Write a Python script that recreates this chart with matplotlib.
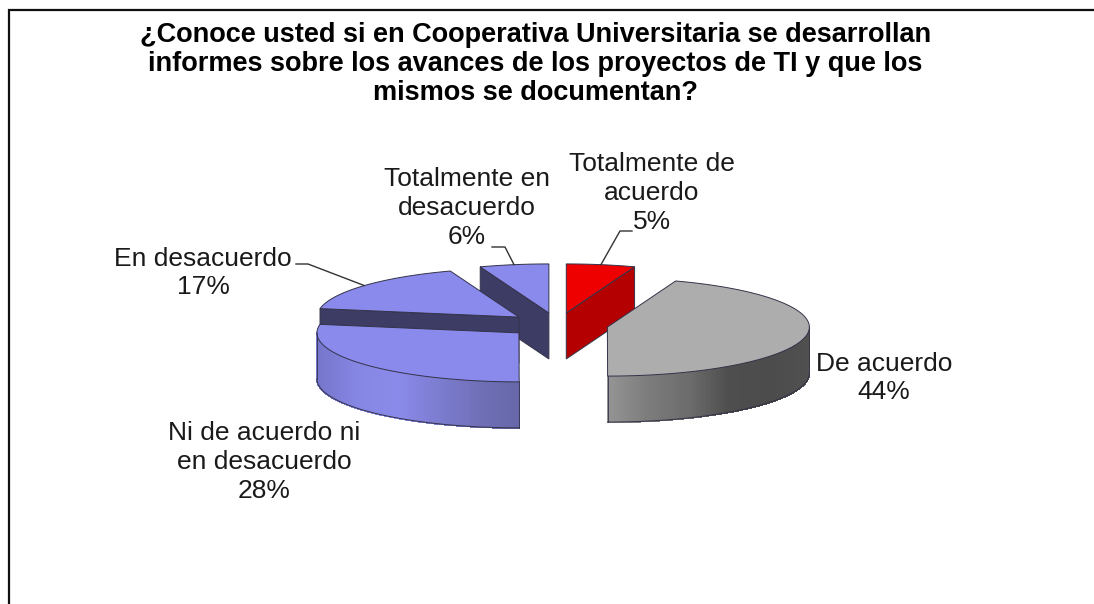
import numpy as np
import matplotlib
matplotlib.use("Agg")
import matplotlib.pyplot as plt
from matplotlib.patches import Polygon
from matplotlib.collections import PolyCollection
from matplotlib.colors import LinearSegmentedColormap

plt.rcParams['font.family'] = ['Liberation Sans', 'DejaVu Sans']

title = ("¿Conoce usted si en Cooperativa Universitaria se desarrollan\n"
         "informes sobre los avances de los proyectos de TI y que los\n"
         "mismos se documentan?")
categories = ["Totalmente de\nacuerdo", "De acuerdo", "Ni de acuerdo ni\nen desacuerdo",
              "En desacuerdo", "Totalmente en\ndesacuerdo"]
values = [5.49, 44.49, 27.8, 16.7, 5.52]

top_colors = ['#EE0000', '#ADADAD', '#8A8AEC', '#8A8AEC', '#8A8AEC']
wall_colors = ['#B40000', None, None, '#3C3C64', '#3C3C64']
outer_stops = {1: ['#949494', '#7c7c7c', '#6c6c6c', '#4e4e4e', '#4c4c4c', '#505050'],
               2: ['#7676cc', '#8686e4', '#8a8aea', '#7c7cd0', '#7070b8', '#6666a8']}
label_xy = [(652, 193), (884, 378), (264, 462), (203, 273), (467, 208)]

# projection of the pie in pixels
CX, CY, RX, RY, DEPTH, EXPLODE = 557.6, 325.0, 202.0, 49.0, 46.0, 0.25

fig = plt.figure(figsize=(10.94, 6.04), dpi=100, facecolor='white')
ax = fig.add_axes([0, 0, 1, 1])
ax.set_xlim(0, 1094)
ax.set_ylim(604, 0)
ax.axis('off')

# frame of the chart area
ax.plot([9.2, 9.2, 1094], [604, 10.2, 10.2], color='#101010', lw=1.6, solid_joinstyle='miter')

ax.text(535.5, 64, title, ha='center', va='center', fontsize=19.5, fontweight='bold',
        color='black', linespacing=1.16)

fr = np.array(values) / sum(values)
ends = np.cumsum(fr) * 2 * np.pi
starts = ends - fr * 2 * np.pi
mids = (starts + ends) / 2
apex_x = CX + EXPLODE * RX * np.sin(mids)
apex_y = CY - EXPLODE * RY * np.cos(mids)

EDGE = '#33334a'


def arc(i, n=160):
    t = np.linspace(starts[i], ends[i], n)
    return apex_x[i] + RX * np.sin(t), apex_y[i] - RY * np.cos(t)


def side_wall(i, angle, color):
    x0, y0 = apex_x[i], apex_y[i]
    x1, y1 = x0 + RX * np.sin(angle), y0 - RY * np.cos(angle)
    ax.add_patch(Polygon([(x0, y0), (x1, y1), (x1, y1 + DEPTH), (x0, y0 + DEPTH)],
                         closed=True, facecolor=color, edgecolor=EDGE, lw=0.7))


def outer_wall(i):
    t = np.linspace(starts[i], ends[i], 400)
    x = apex_x[i] + RX * np.sin(t)
    y = apex_y[i] - RY * np.cos(t)
    # only the part of the rim facing the viewer
    keep = np.cos(t) <= 0
    x, y = x[keep], y[keep]
    cmap = LinearSegmentedColormap.from_list('w', outer_stops[i])
    lo, hi = x.min(), x.max()
    quads = [[(x[k], y[k]), (x[k + 1], y[k + 1]), (x[k + 1], y[k + 1] + DEPTH), (x[k], y[k] + DEPTH)]
             for k in range(len(x) - 1)]
    cols = [cmap((x[k] - lo) / (hi - lo)) for k in range(len(x) - 1)]
    ax.add_collection(PolyCollection(quads, facecolors=cols, edgecolors=cols, linewidths=0.8,
                                     antialiaseds=False))
    ax.plot(x, y + DEPTH, color=EDGE, lw=0.7)
    ax.plot([x[0], x[0]], [y[0], y[0] + DEPTH], color=EDGE, lw=0.6)
    ax.plot([x[-1], x[-1]], [y[-1], y[-1] + DEPTH], color=EDGE, lw=0.6)


def top(i):
    x, y = arc(i)
    pts = np.column_stack([np.r_[apex_x[i], x], np.r_[apex_y[i], y]])
    ax.add_patch(Polygon(pts, closed=True, facecolor=top_colors[i], edgecolor=EDGE, lw=0.7))


# back to front: last slice, first slice, then the fourth, third and second
side_wall(4, starts[4], wall_colors[4])
top(4)
side_wall(0, ends[0], wall_colors[0])
top(0)
side_wall(3, starts[3], wall_colors[3])
top(3)
outer_wall(2)
top(2)
outer_wall(1)
top(1)

# percent labels
for name, v, (lx, ly) in zip(categories, values, label_xy):
    ax.text(lx, ly, f"{name}\n{round(v)}%", ha='center', va='center', fontsize=19,
            color='#1a1a1a', linespacing=1.24)


# leader lines run from the label to the middle of the slice rim
def leader(i, knee):
    ex = apex_x[i] + RX * np.sin(mids[i])
    ey = apex_y[i] - RY * np.cos(mids[i])
    ax.plot([p[0] for p in knee] + [ex], [p[1] for p in knee] + [ey], color='#333333', lw=1.0)


leader(0, [(632, 231), (620, 231)])
leader(3, [(296, 264), (308, 264)])
leader(4, [(492, 247), (505, 247)])

fig.savefig('out.png', dpi=100, facecolor='white')
